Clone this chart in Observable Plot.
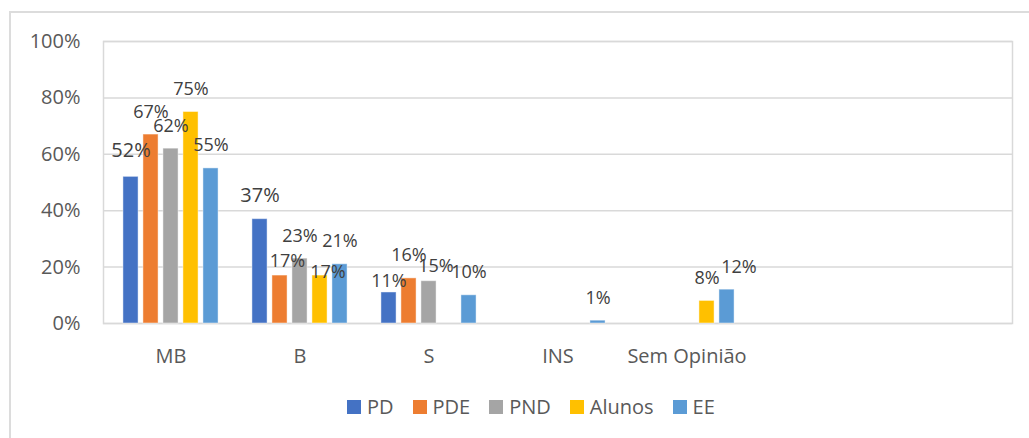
<!DOCTYPE html>
<html>
<head>
<meta charset="utf-8">
<script src="https://cdn.jsdelivr.net/npm/d3@7"></script>
<script src="https://cdn.jsdelivr.net/npm/@observablehq/plot@0.6"></script>
<style>
  html, body { margin: 0; padding: 0; background: #fff; }
  #wrap { position: relative; width: 1029px; height: 438px; overflow: hidden; font-family: "Open Sans", sans-serif; }
  #border { position: absolute; left: 9px; top: 11px; width: 1100px; height: 500px; border-left: 2px solid #dcdcdc; border-top: 2px solid #dcdcdc; }
  #chart { position: absolute; left: 0; top: 0; }
  #legend { position: absolute; left: 347px; top: 397px; display: flex; align-items: center; height: 20px; font-size: 20px; line-height: 20px; color: #595959; }
  #legend .item { display: flex; align-items: center; margin-right: 19px; }
  #legend .sw { width: 14px; height: 14px; margin-right: 6px; }
</style>
</head>
<body>
<div id="wrap">
  <div id="border"></div>
  <div id="chart"></div>
  <div id="legend"></div>
</div>
<script>
// ---- data ----
const categories = ["MB", "B", "S", "INS", "Sem Opinião"];
const emptySlots = ["", " "];
const series = ["PD", "PDE", "PND", "Alunos", "EE"];
const PD     = [0.52, 0.37, 0.11, 0, 0];
const PDE    = [0.67, 0.17, 0.16, 0, 0];
const PND    = [0.62, 0.23, 0.15, 0, 0];
const Alunos = [0.75, 0.17, 0,    0, 0.08];
const EE     = [0.55, 0.21, 0.10, 0.01, 0.12];
const yTicks = [0, 0.2, 0.4, 0.6, 0.8, 1];

// ---- styles ----
const colors = {PD: "#4472C4", PDE: "#ED7D31", PND: "#A5A5A5", Alunos: "#FFC000", EE: "#5B9BD5"};
const valuesBySeries = {PD, PDE, PND, Alunos, EE};
// label nudges (pixels) relative to default "outside end" placement
const labelNudge = {
  "MB|PD": {dy: -2.5, size: 20},
  "B|PD": {dy: -0.5, size: 20},
  "B|PDE": {dx: 7.5, dy: 8},
  "B|Alunos": {dx: 8, dy: 19},
  "S|PD": {dy: 12},
  "S|PND": {dx: 7, dy: 8},
  "Sem Opinião|EE": {dx: 12}
};

const rows = [];
series.forEach((s, i) => {
  categories.forEach((c, j) => rows.push({cat: c, series: s, si: i, value: valuesBySeries[s][j]}));
});

const pitch = 20, barW = 16;
const W = 1029, H = 380;
const mL = 103, mR = W - 1012, mT = 41, mB = H - 323;
const band = (W - mL - mR) / (categories.length + emptySlots.length);
const inset = (band - barW) / 2;
const fmt = d3.format(".0%");

const marks = [
  Plot.ruleY(yTicks, {stroke: "#d9d9d9", strokeWidth: 1.5}),
  Plot.frame({stroke: "#d9d9d9", strokeWidth: 1.5})
];
series.forEach((s, i) => {
  marks.push(Plot.barY(rows.filter(r => r.series === s && r.value > 0), {
    x: "cat", y: "value", fill: colors[s],
    dx: (i - 2) * pitch, insetLeft: inset, insetRight: inset,
    stroke: "#fff", strokeOpacity: 0.45, strokeWidth: 1
  }));
});
rows.filter(r => r.value > 0).forEach(r => {
  const n = labelNudge[r.cat + "|" + r.series] || {};
  marks.push(Plot.text([r], {
    x: "cat", y: "value", text: d => fmt(d.value),
    dx: (r.si - 2) * pitch + (n.dx || 0), dy: -17 + (n.dy || 0),
    lineAnchor: "bottom", textAnchor: "middle",
    fontSize: n.size || 18, fill: "#404040"
  }));
});

const chart = Plot.plot({
  width: W, height: H,
  marginLeft: mL, marginRight: mR, marginTop: mT, marginBottom: mB,
  style: {fontFamily: "Open Sans, sans-serif", fontSize: "20px", color: "#595959", background: "transparent", overflow: "visible"},
  x: {domain: [...categories, ...emptySlots], padding: 0, tickSize: 0, tickPadding: 25, label: null, tickFormat: d => d.trim()},
  y: {domain: [0, 1], ticks: yTicks, tickFormat: fmt, tickSize: 0, tickPadding: 23, label: null},
  marks
});
document.getElementById("chart").appendChild(chart);

// legend
const legend = document.getElementById("legend");
series.forEach(s => {
  const item = document.createElement("div");
  item.className = "item";
  const sw = document.createElement("span");
  sw.className = "sw";
  sw.style.background = colors[s];
  const t = document.createElement("span");
  t.textContent = s;
  item.appendChild(sw); item.appendChild(t);
  legend.appendChild(item);
});
</script>
</body>
</html>
